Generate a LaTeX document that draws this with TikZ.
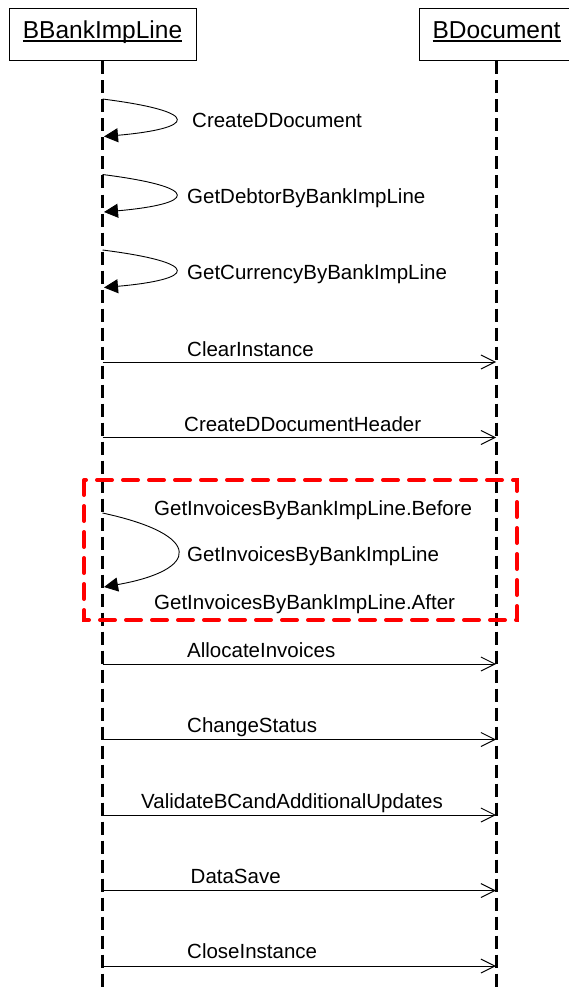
\documentclass[tikz,border=0pt]{standalone}
\usepackage{fontspec}
\setmainfont{Liberation Sans}
\usetikzlibrary{arrows.meta}
\newcommand\myul[1]{\setbox0\hbox{#1}\rlap{\rule[-2.6pt]{\wd0}{1.2pt}}\box0}
\begin{document}
\begin{tikzpicture}[x=1pt,y=-1pt,
  lifeline/.style={line width=3pt, dash pattern=on 13pt off 6pt},
  objbox/.style={draw, line width=1pt, minimum height=52pt, inner sep=0pt,
    text height=18pt, text depth=10pt, font=\fontsize{24.5}{28}\selectfont},
  msg/.style={line width=0.9pt, -{Straight Barb[length=14pt,width=14pt,line width=1pt]}},
  selfmsg/.style={line width=0.9pt, -{Triangle[length=14pt,width=14pt]}},
  lbl/.style={anchor=base west, inner sep=0pt, font=\fontsize{20.5}{24}\selectfont},
  frag/.style={draw=red, line width=4pt, dash pattern=on 15pt off 11pt, line cap=round}
]
\useasboundingbox (0,0) rectangle (569,987);
\clip (0,0) rectangle (569,987);
\fill[white] (0,0) rectangle (569,987);

% objects
\node[objbox, minimum width=187pt] (b1) at (102.5,35) {\myul{BBankImpLine}};
\node[objbox, minimum width=155pt] (b2) at (496.5,35) {\myul{BDocument}};
\coordinate (e1) at (102.5,990);
\coordinate (e2) at (496.5,990);
\draw[lifeline] (b1.south) -- (e1);
\draw[lifeline] (b2.south) -- (e2);

% self calls
\coordinate (s1a) at (102.5,99);   \coordinate (s1b) at (104,136.5);
\coordinate (s2a) at (102.5,174.5); \coordinate (s2b) at (104,212);
\coordinate (s3a) at (102.5,250);  \coordinate (s3b) at (104,287.5);
\draw[selfmsg] (s1a) .. controls +(102,13) and +(91,-8) .. (s1b);
\draw[selfmsg] (s2a) .. controls +(102,13) and +(91,-8) .. (s2b);
\draw[selfmsg] (s3a) .. controls +(102,13) and +(91,-8) .. (s3b);
\node[lbl] (l1) at (192,128) {CreateDDocument};
\node[lbl] (l2) at (187,204) {GetDebtorByBankImpLine};
\node[lbl] (l3) at (187,279) {GetCurrencyByBankImpLine};

% messages
\foreach \n/\y in {1/362,2/437.5,3/664,4/739.5,5/815,6/890.5,7/966}{
  \coordinate (ma\n) at (102.5,\y);
  \coordinate (mb\n) at (496,\y);
  \draw[msg] (ma\n) -- (mb\n);
}
\node[lbl] (t1) at (187,356) {ClearInstance};
\node[lbl] (t2) at (184,431) {CreateDDocumentHeader};
\node[lbl] (t3) at (187,657) {AllocateInvoices};
\node[lbl] (t4) at (187,732.5) {ChangeStatus};
\node[lbl] (t5) at (141,808) {ValidateBCandAdditionalUpdates};
\node[lbl] (t6) at (190.5,883) {DataSave};
\node[lbl] (t7) at (187,958.5) {CloseInstance};

% fragment
\draw[frag] (84,480) -- (84,620) -- (517,620) -- (517,480) -- cycle;
\coordinate (s4a) at (102.5,513); \coordinate (s4b) at (104,587);
\draw[selfmsg] (s4a) .. controls +(102,22) and +(96,-17) .. (s4b);
\node[lbl] (f1) at (154,515) {GetInvoicesByBankImpLine.Before};
\node[lbl] (f2) at (187,561) {GetInvoicesByBankImpLine};
\node[lbl] (f3) at (154,609) {GetInvoicesByBankImpLine.After};
\end{tikzpicture}
\end{document}
